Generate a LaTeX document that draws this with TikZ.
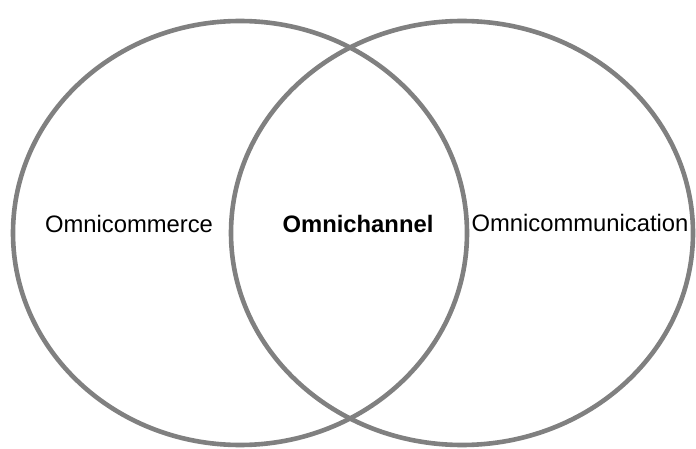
\documentclass[tikz,border=0pt]{standalone}
\usepackage{fontspec}
\setmainfont{Liberation Sans}
\usepackage{tikz}
\usetikzlibrary{positioning}
\usepackage{xcolor}
\definecolor{ringgray}{RGB}{128,128,128}

\tikzset{
    ring/.style={draw=ringgray, line width=4.6pt},
    setlabel/.style={anchor=base, inner sep=0pt, font=\fontsize{23.8}{28}\selectfont}
}

\begin{document}
\begin{tikzpicture}[x=1pt,y=-1pt]
        % Canvas
        \useasboundingbox (0,0) rectangle (696,449);

        % Two overlapping sets
        \draw[ring] (240,233) ellipse [x radius=227pt, y radius=212pt];
        \draw[ring] (462,233) ellipse [x radius=231pt, y radius=212pt];

        % Add labels to each region
        \node[setlabel] (commerce) at (129,233) {Omnicommerce};
        \node[setlabel] (channel) at (358,233) {\bfseries Omnichannel};
        \node[setlabel] (communication) at (580,232) {Omnicommunication};
    \end{tikzpicture}
\end{document}
